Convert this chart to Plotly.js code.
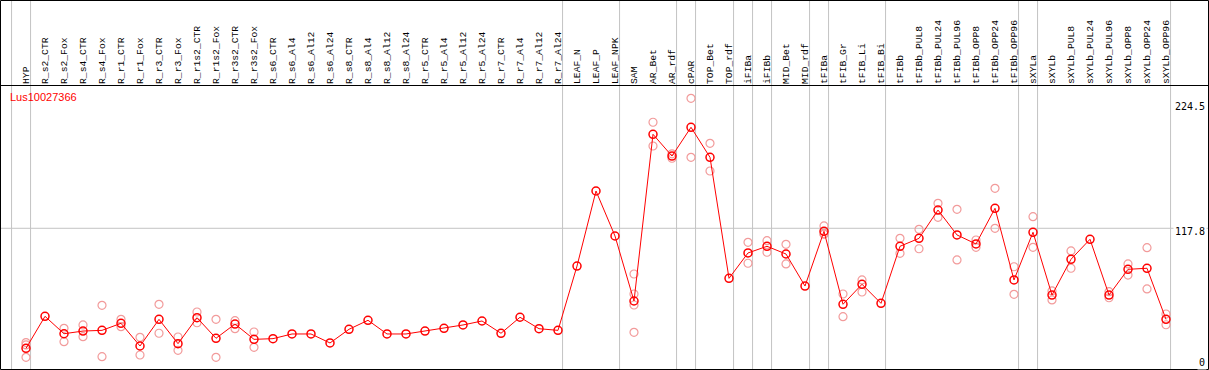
<!DOCTYPE html>
<html>
<head>
<meta charset="utf-8">
<script src="https://cdn.plot.ly/plotly-3.0.1.min.js"></script>
<style>
  html, body { margin: 0; padding: 0; background: #ffffff; }
  #chart { width: 1209px; height: 370px; }
</style>
</head>
<body>
<div id="chart"></div>
<script>
// ---------------- data ----------------
const seriesName = 'Lus10027366';

const categories = [
  'HYP', 'R_s2_CTR', 'R_s2_Fox', 'R_s4_CTR', 'R_s4_Fox', 'R_r1_CTR', 'R_r1_Fox',
  'R_r3_CTR', 'R_r3_Fox', 'R_r1s2_CTR', 'R_r1s2_Fox', 'R_r3s2_CTR', 'R_r3s2_Fox',
  'R_s6_CTR', 'R_s6_Al4', 'R_s6_Al12', 'R_s6_Al24', 'R_s8_CTR', 'R_s8_Al4',
  'R_s8_Al12', 'R_s8_Al24', 'R_r5_CTR', 'R_r5_Al4', 'R_r5_Al12', 'R_r5_Al24',
  'R_r7_CTR', 'R_r7_Al4', 'R_r7_Al12', 'R_r7_Al24', 'LEAF_N', 'LEAF_P', 'LEAF_NPK',
  'SAM', 'AR_Bet', 'AR_rdf', 'cPAR', 'TOP_Bet', 'TOP_rdf', 'iFIBa', 'iFIBb',
  'MID_Bet', 'MID_rdf', 'tFIBa', 'tFIB_Gr', 'tFIB_Li', 'tFIB_Bi', 'tFIBb',
  'tFIBb_PUL8', 'tFIBb_PUL24', 'tFIBb_PUL96', 'tFIBb_OPP8', 'tFIBb_OPP24', 'tFIBb_OPP96',
  'sXYLa', 'sXYLb', 'sXYLb_PUL8', 'sXYLb_PUL24', 'sXYLb_PUL96', 'sXYLb_OPP8',
  'sXYLb_OPP24', 'sXYLb_OPP96'
];

const meanValues = [
  15.1, 42.5, 27.6, 29.9, 30.5, 36.5, 17.1,
  39.9, 19.1, 41.3, 23.7, 35.9, 22.8,
  23.4, 27.4, 27.4, 19.7, 31.4, 39.1,
  27.4, 27.4, 29.9, 32.2, 35.1, 38.5,
  28.0, 41.7, 31.9, 30.5, 85.5, 149.7, 111.2,
  55.6, 198.2, 179.6, 204.2, 178.5, 75.0, 96.7, 102.4,
  95.8, 68.4, 115.2, 52.8, 69.9, 53.6, 102.4,
  109.2, 133.4, 112.1, 104.4, 134.9, 73.6,
  114.4, 60.7, 91.3, 108.4, 60.7, 82.7,
  83.6, 39.9
];

const replicateValues = [
  [20.0, 18.0, 7.4], [], [32.2, 20.8], [35.1, 25.1], [51.9, 8.0], [39.9, 33.6], [24.5, 9.4],
  [52.8, 28.0], [24.8, 13.4], [46.2, 37.0], [39.9, 7.4], [38.8, 31.9], [29.1, 16.0],
  [], [], [], [], [], [],
  [], [], [], [], [], [],
  [], [], [], [], [], [], [],
  [78.7, 61.6, 52.2, 28.8], [208.5, 188.2], [181.5, 177.7], [229.0, 178.5], [190.5, 166.8], [], [105.8, 87.9], [107.2, 97.3],
  [104.1, 87.3], [], [119.8, 113.0, 112.8], [61.6, 42.2], [73.6, 63.3], [], [109.2, 96.4],
  [116.9, 100.3], [139.2, 127.2], [134.0, 90.7], [107.8, 101.5], [152.0, 117.8], [84.9, 61.3],
  [127.7, 101.5], [64.2, 56.5], [98.4, 83.6], [], [63.6, 58.4], [87.3, 77.8],
  [101.2, 65.9], [44.5, 35.3]
];

// group separators: drawn just after these categories (null = before the first one)
const separatorsAfter = [
  null, 'HYP', 'R_r7_Al24', 'LEAF_NPK', 'AR_rdf', 'cPAR', 'TOP_rdf', 'iFIBa', 'iFIBb',
  'MID_rdf', 'tFIBa', 'tFIB_Bi', 'tFIBb_OPP96', 'sXYLa', 'sXYLb_OPP96'
];

const yTickValues = [0, 117.8, 224.5];
const yTickLabels = ['0', '117.8', '224.5'];
const yGridValues = [117.8];

// ---------------- build ----------------
const W = 1209, H = 370;
const M = { l: 1, r: 1, t: 85, b: 1 };
const PW = W - M.l - M.r, PH = H - M.t - M.b;
const pxToPaperX = px => (px - M.l) / PW;
const pxToPaperY = py => 1 - (py - M.t) / PH;

const idx = categories.map((_, i) => i);

const repX = [], repY = [];
replicateValues.forEach((arr, i) => arr.forEach(v => { repX.push(i); repY.push(v); }));

const traces = [
  {
    type: 'scatter', mode: 'markers', x: repX, y: repY, name: 'replicates',
    marker: { symbol: 'circle-open', size: 8, color: '#f29b9b', line: { width: 1.2, color: '#f29b9b' } },
    hoverinfo: 'skip', showlegend: false, cliponaxis: false
  },
  {
    type: 'scatter', mode: 'lines+markers', x: idx, y: meanValues, name: seriesName,
    line: { color: '#ff0000', width: 1 },
    marker: { symbol: 'circle-open', size: 8, color: '#ff0000', line: { width: 1.5, color: '#ff0000' } },
    showlegend: false, cliponaxis: false
  }
];

const shapes = [];
separatorsAfter.forEach(name => {
  const i = name === null ? -1 : categories.indexOf(name);
  const xv = i + 0.24;
  shapes.push({
    type: 'line', xref: 'x', yref: 'paper', x0: xv, x1: xv,
    y0: pxToPaperY(369), y1: pxToPaperY(0),
    line: { color: '#c4c4c4', width: 1 }, layer: 'below'
  });
});
yGridValues.forEach(v => {
  shapes.push({
    type: 'line', xref: 'paper', yref: 'y', x0: 0, x1: 1, y0: v, y1: v,
    line: { color: '#c4c4c4', width: 1 }, layer: 'below'
  });
});
// outer frame and header separator
shapes.push({
  type: 'rect', xref: 'paper', yref: 'paper',
  x0: pxToPaperX(0.5), x1: pxToPaperX(1208.5), y0: pxToPaperY(369.5), y1: pxToPaperY(0.5),
  line: { color: '#000000', width: 1 }, fillcolor: 'rgba(0,0,0,0)'
});
shapes.push({
  type: 'line', xref: 'paper', yref: 'paper',
  x0: pxToPaperX(0), x1: pxToPaperX(1209), y0: pxToPaperY(85.5), y1: pxToPaperY(85.5),
  line: { color: '#000000', width: 1 }
});

const annotations = [
  {
    text: seriesName, xref: 'paper', yref: 'paper',
    x: pxToPaperX(8), y: pxToPaperY(97), xanchor: 'left', yanchor: 'middle',
    showarrow: false, font: { family: 'Liberation Sans, Arial, sans-serif', size: 11, color: '#ff0000' }
  }
];
yTickValues.forEach((v, k) => {
  annotations.push({
    text: yTickLabels[k], xref: 'paper', yref: 'y', x: 1, y: v,
    xanchor: 'right', yanchor: 'middle', xshift: -1, yshift: v === 0 ? 4 : -3,
    showarrow: false, bgcolor: '#ffffff', borderpad: 1,
    font: { family: 'DejaVu Sans Mono, monospace', size: 10, color: '#000000' }
  });
});

const layout = {
  width: W, height: H,
  margin: { l: M.l, r: M.r, t: M.t, b: M.b, pad: 0 },
  paper_bgcolor: '#ffffff', plot_bgcolor: '#ffffff',
  showlegend: false,
  xaxis: {
    range: [-(26 - M.l) / 19, -(26 - M.l) / 19 + PW / 19],
    side: 'top', tickmode: 'array', tickvals: idx, ticktext: categories,
    tickangle: -90, ticks: '', showgrid: false, zeroline: false, showline: false,
    tickfont: { family: 'Liberation Mono, DejaVu Sans Mono, monospace', size: 9.7, color: '#000000' },
    fixedrange: true
  },
  yaxis: {
    range: [(366 - 369) / 1.169, (366 - 85) / 1.169],
    showticklabels: false, ticks: '', showgrid: false, zeroline: false, showline: false,
    fixedrange: true
  },
  shapes: shapes,
  annotations: annotations
};

Plotly.newPlot('chart', traces, layout, { displayModeBar: false, staticPlot: true });
</script>
</body>
</html>
